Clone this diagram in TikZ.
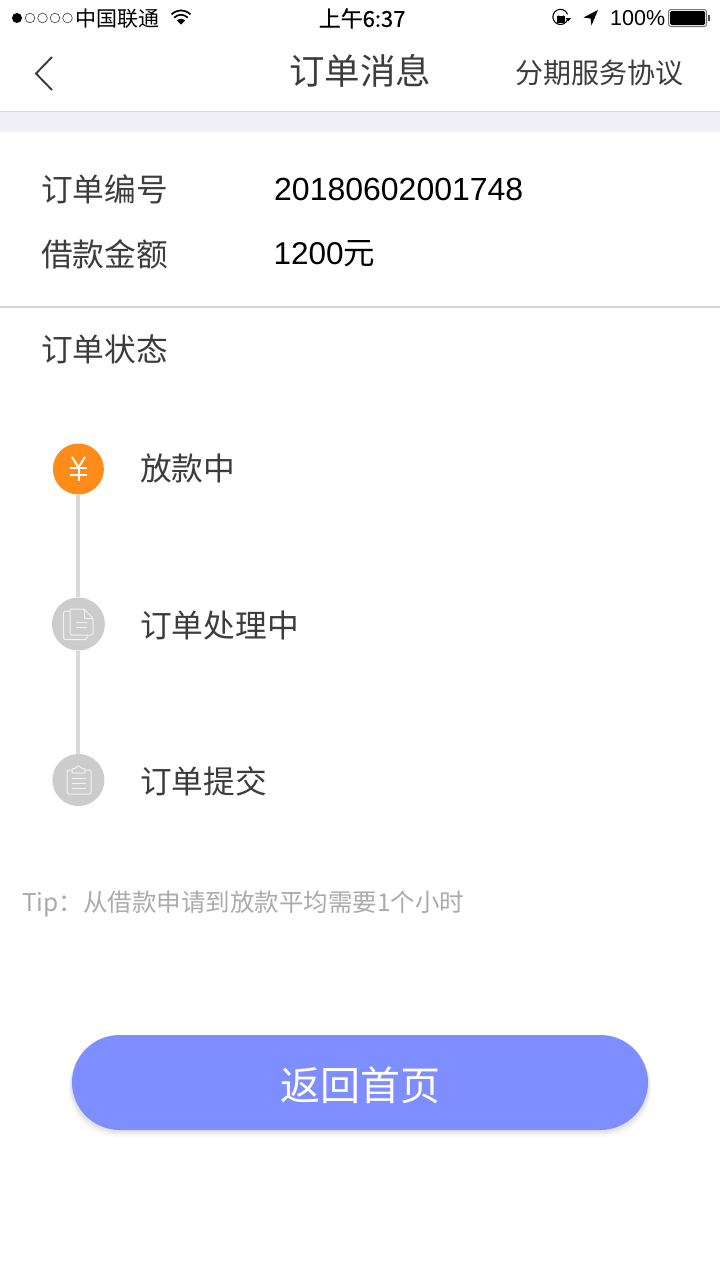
\documentclass[tikz,border=0pt]{standalone}
\usepackage{fontspec}
\setmainfont{Noto Sans CJK SC}
\newfontfamily\latinf{Liberation Sans}
\newfontfamily\boldcjk{Noto Sans CJK SC}[FakeBold=0.6]
\definecolor{ink}{HTML}{3C3C3C}
\definecolor{sep}{HTML}{D6D6D8}
\definecolor{band}{HTML}{EFEFF5}
\definecolor{orangec}{HTML}{FF8C1A}
\definecolor{greyc}{HTML}{CCCCCC}
\definecolor{linec}{HTML}{D9D9D9}
\definecolor{tipc}{HTML}{ABABAB}
\definecolor{btn}{HTML}{7F8EFF}
\newcommand{\fs}[1]{\fontsize{#1pt}{#1pt}\selectfont}
\tikzset{
 lab/.style={anchor=west,inner sep=0pt,text=ink,font=\fs{31.7}},
 blk/.style={anchor=west,inner sep=0pt,text=black},
 stepdot/.style={circle,inner sep=0pt,minimum size=#1},
 icon/.style={draw=white,line width=1pt,line join=round,opacity=.75},
 rail/.style={draw=linec,line width=4pt},
}
\begin{document}
\begin{tikzpicture}[x=1pt,y=-1pt]
\useasboundingbox (0,0) rectangle (720,1280);
\fill[white] (0,0) rectangle (720,1280);
% nav + band
\fill[band] (0,112) rectangle (720,132);
\draw[sep,line width=1.2pt] (0,111.5) -- (720,111.5);
\draw[sep,line width=1.2pt] (0,307) -- (720,307);
% status bar
\fill[black] (17,18) circle (5);
\foreach \x in {30,42.5,55,67.5}{\draw[black!75,line width=.6pt] (\x,18) circle (4.8);}
\node[blk,font=\fs{21}] (carrier) at (75.5,18.5) {中国联通};
\fill[black] (181,24.5) -- (177,20.5) .. controls (179.5,18.2) and (182.5,18.2) .. (185,20.5) -- cycle;
\draw[black,line width=1.7pt] (174.2,17.6) .. controls (178.5,13.8) and (183.5,13.8) .. (187.8,17.6);
\draw[black,line width=1.7pt] (171.5,14.4) .. controls (177.5,9) and (184.5,9) .. (190.5,14.4);
\node[blk,font=\boldcjk\fs{22}] (clock) at (318.5,18.5) {上午6:37};
% lock
\draw[black,line width=1.1pt] (567.6,19.5) arc (20:340:7.6) ;
\fill[black] (557,15.5) rectangle (565,22.5);
\draw[black,line width=1pt] (558.5,15.5) arc (180:0:2.5);
\fill[black] (565.5,18) -- (571,18) -- (568.2,21.5) -- cycle;
% location arrow
\fill[black] (598,10) -- (583.5,17.5) -- (590.5,18.5) -- (591.5,25.5) -- cycle;
\node[blk,font={\latinf\fs{21.5}}] (pct) at (610,18.5) {100\%};
% battery
\draw[black!55,line width=1pt,rounded corners=2.5pt] (668.5,9.5) rectangle (706.5,26.5);
\fill[black,rounded corners=1.5pt] (670,11) rectangle (705,25);
\fill[black!70] (708,15) rectangle (710,21);
% nav
\draw[ink,line width=1.9pt] (52,57) -- (36,73.5) -- (52,90);
\node[anchor=center,inner sep=0pt,text=ink,font=\fs{35.5}] (title) at (360,71) {订单消息};
\node[anchor=center,inner sep=0pt,text=ink,font=\fs{28}] (terms) at (599.5,73) {分期服务协议};
% order info
\node[lab] (noL) at (41,189) {订单编号};
\node[blk,font={\latinf\fs{32}}] (noV) at (274,189) {20180602001748};
\node[lab] (amtL) at (41,254) {借款金额};
\node[blk,font=\fs{31.5}] (amtV) at (273.5,254) {{\latinf 1200}元};
\node[lab] (stL) at (41,349) {订单状态};
% steps
\node[stepdot=51,fill=orangec] (s1) at (78.4,469) {};
\node[stepdot=53,fill=greyc] (s2) at (78.4,624) {};
\node[stepdot=52,fill=greyc] (s3) at (78.4,780) {};
\draw[rail] (s1) -- (s2);
\draw[rail] (s2) -- (s3);
\node[lab] (t1) at (140,468) {放款中};
\node[lab] (t2) at (140,625) {订单处理中};
\node[lab] (t3) at (140,781) {订单提交};
% yen
\draw[white,line width=2pt] (72,457) -- (78.5,467.5) -- (85,457);
\draw[white,line width=2pt] (78.5,467.5) -- (78.5,481);
\draw[white,line width=2pt] (70,467.5) -- (87,467.5) (70,474.5) -- (87,474.5);
% docs icon
\draw[icon,rounded corners=1.5pt] (70,611) -- (63.5,611) -- (63.5,639.5) -- (87,639.5) -- (87,635);
\draw[icon,rounded corners=1.5pt] (70,609) -- (84,609) -- (93,618) -- (93,635) -- (70,635) -- cycle;
\draw[icon] (84,609) -- (84,618) -- (93,618);
\draw[icon] (76,622.5) -- (87,622.5) (76,627.5) -- (87,627.5);
% clipboard icon
\draw[icon,rounded corners=2pt] (72,770) -- (67,770) -- (67,794) -- (91,794) -- (91,770) -- (85,770);
\draw[icon,rounded corners=1pt] (72,773) -- (72,768.5) -- (75,768.5) -- (78.5,765.5) -- (82,768.5) -- (85,768.5) -- (85,773) -- cycle;
\draw[icon] (72,778.5) -- (86,778.5) (72,783.5) -- (86,783.5) (72,788.5) -- (86,788.5);
% tip
\node[anchor=west,inner sep=0pt,text=tipc,font=\fs{24.5}] (tip) at (22,903.5) {Tip：从借款申请到放款平均需要1个小时};
% button shadow
\foreach \d/\o in {7/.015,5.5/.02,4/.03,2.5/.04}{
 \fill[black,opacity=\o,rounded corners=47.5pt] (72-\d/2,1035+\d) rectangle (648+\d/2,1130+\d);}
\node[draw=none,fill=btn,rounded corners=47.5pt,minimum width=576pt,minimum height=95pt,inner sep=0pt] (home) at (360,1082.5) {};
\node[anchor=center,inner sep=0pt,text=white,font=\fs{40}] (homet) at (360,1085.5) {返回首页};
\end{tikzpicture}
\end{document}
